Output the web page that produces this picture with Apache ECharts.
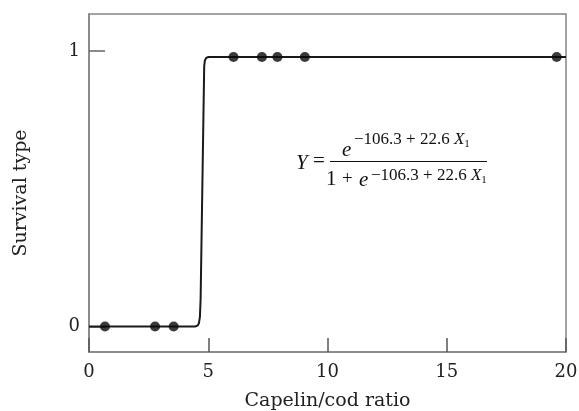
<!DOCTYPE html>
<html>
<head>
<meta charset="utf-8">
<script src="https://cdn.jsdelivr.net/npm/echarts@6/dist/echarts.min.js"></script>
<style>
html,body{margin:0;padding:0;background:#fff;}
#chart{width:579px;height:411px;}
</style>
</head>
<body>
<div id="chart"></div>
<script>
// Observed data points (capelin/cod ratio, survival type as drawn)
var pointX = [0.67, 2.77, 3.55, 6.06, 7.25, 7.9, 9.05, 19.61];
var pointY = [0, 0, 0, 0.978, 0.978, 0.978, 0.978, 0.978];
// Fitted curve
var curveX = [0, 4.45, 4.55, 4.61, 4.65, 4.68, 4.83, 4.86, 4.92, 5.02, 20];
var curveY = [0, 0, 0.003, 0.012, 0.035, 0.1, 0.945, 0.966, 0.975, 0.978, 0.978];
var xTicks = [0, 5, 10, 15, 20];
var yTicks = [0, 1];
var xTitle = 'Capelin/cod ratio';
var yTitle = 'Survival type';

var axisCol = '#858585';
var tickFont = 'DejaVu Serif';
var mathFont = 'Liberation Serif';

var chart = echarts.init(document.getElementById('chart'), null, {renderer: 'canvas'});
var expRich = {
  n: {fontFamily: mathFont, fontSize: 17, lineHeight: 20, verticalAlign: 'middle', color: '#111'},
  x: {fontFamily: mathFont, fontSize: 17, fontStyle: 'italic', lineHeight: 20, verticalAlign: 'middle', color: '#111'},
  s: {fontFamily: mathFont, fontSize: 11, lineHeight: 11, verticalAlign: 'bottom', color: '#111'}
};
var option = {
  animation: false,
  backgroundColor: '#fff',
  grid: {left: 89, right: 13, top: 14, bottom: 59, show: true, borderColor: axisCol, borderWidth: 1.5,
         backgroundColor: 'transparent', containLabel: false, outerBoundsMode: 'none'},
  xAxis: {
    type: 'value', min: 0, max: 20, interval: 5,
    name: xTitle, nameLocation: 'middle', nameGap: 40,
    nameTextStyle: {fontFamily: tickFont, fontSize: 19, color: '#222'},
    axisLine: {show: true, onZero: false, lineStyle: {color: axisCol, width: 1.5}},
    axisTick: {show: true, inside: true, length: 14, lineStyle: {color: '#555', width: 1.5}, customValues: xTicks},
    axisLabel: {fontFamily: tickFont, fontSize: 18, color: '#222', margin: 11, customValues: xTicks},
    splitLine: {show: false}
  },
  yAxis: {
    type: 'value', min: -0.0926, max: 1.134,
    name: yTitle, nameLocation: 'middle', nameGap: 58, nameRotate: 90,
    nameTextStyle: {fontFamily: tickFont, fontSize: 19, color: '#222', padding: [0, 20, 0, 0]},
    axisLine: {show: true, onZero: false, lineStyle: {color: axisCol, width: 1.5}},
    axisTick: {show: true, inside: true, length: 16, lineStyle: {color: '#666', width: 1.5}, customValues: yTicks},
    axisLabel: {fontFamily: tickFont, fontSize: 18, color: '#222', margin: 9, customValues: yTicks},
    splitLine: {show: false}
  },
  series: [
    {
      type: 'line',
      data: curveX.map(function (x, i) { return [x, curveY[i]]; }),
      showSymbol: false, symbol: 'none', smooth: false,
      lineStyle: {color: '#1a1a1a', width: 2},
      z: 2
    },
    {
      type: 'scatter',
      data: pointX.map(function (x, i) { return [x, pointY[i]]; }),
      symbol: 'circle', symbolSize: 10,
      itemStyle: {color: '#0a0a0a'},
      z: 3
    }
  ],
  graphic: [
    {type: 'text', x: 296, y: 163, style: {text: 'Y', font: 'italic 21px "' + mathFont + '"', fill: '#111', align: 'left', verticalAlign: 'middle'}},
    {type: 'text', x: 313, y: 161, style: {text: '=', font: '21px "' + mathFont + '"', fill: '#111', align: 'left', verticalAlign: 'middle'}},
    {type: 'line', shape: {x1: 330, y1: 161.5, x2: 487, y2: 161.5}, style: {stroke: '#111', lineWidth: 1.2}},
    {type: 'text', x: 342, y: 150, style: {text: 'e', font: 'italic 21px "' + mathFont + '"', fill: '#111', align: 'left', verticalAlign: 'middle'}},
    {type: 'text', x: 354, y: 140, style: {text: '{n|\u2212106.3 + 22.6 }{x|X}{s|1}', align: 'left', verticalAlign: 'middle', fill: '#111', rich: expRich}},
    {type: 'text', x: 326, y: 179, style: {text: '1', font: '21px "' + mathFont + '"', fill: '#111', align: 'left', verticalAlign: 'middle'}},
    {type: 'text', x: 342, y: 179, style: {text: '+', font: '19px "' + mathFont + '"', fill: '#111', align: 'left', verticalAlign: 'middle'}},
    {type: 'text', x: 359, y: 180, style: {text: 'e', font: 'italic 21px "' + mathFont + '"', fill: '#111', align: 'left', verticalAlign: 'middle'}},
    {type: 'text', x: 371, y: 176, style: {text: '{n|\u2212106.3 + 22.6 }{x|X}{s|1}', align: 'left', verticalAlign: 'middle', fill: '#111', rich: expRich}}
  ]
};
chart.setOption(option);
</script>
</body>
</html>
